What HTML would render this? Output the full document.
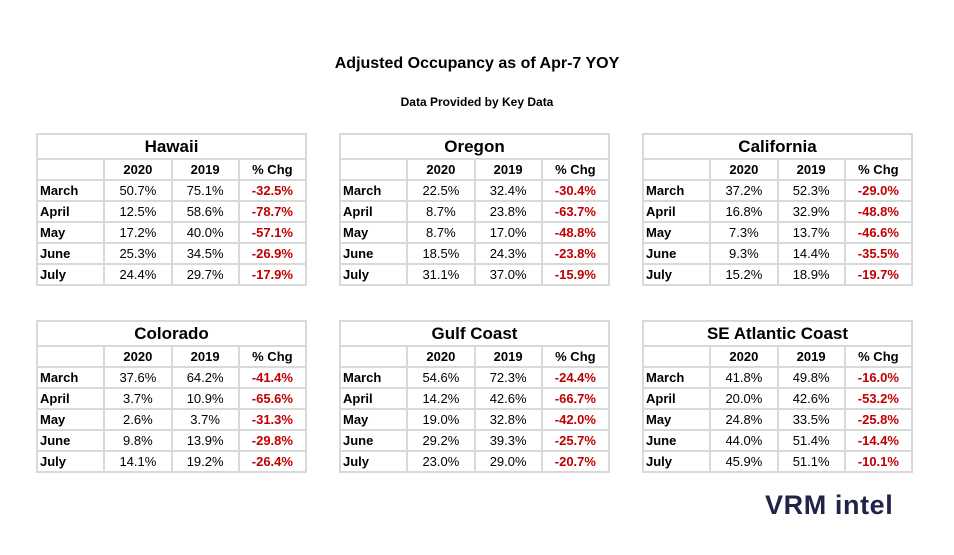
<!DOCTYPE html>
<html><head><meta charset="utf-8"><style>
body{margin:0;width:954px;height:555px;background:#fff;font-family:"Liberation Sans",sans-serif;position:relative;overflow:hidden;color:#000}
.t{position:absolute;text-align:center;font-weight:bold;width:954px;left:0}
table{position:absolute;border-collapse:collapse;table-layout:fixed;width:271px}
td{border:2px solid #d9d9d9;height:19px;padding:0 2px;font-size:13px;text-align:center;line-height:19px}
td.h{font-size:17px;height:23px;line-height:23px;font-weight:bold}
tr.hd td{font-weight:bold}
td.l{text-align:left;font-weight:bold}
td.r{color:#c00000;font-weight:bold}
.logo{position:absolute;left:765px;top:490px;font-size:27px;font-weight:bold;color:#23234a;letter-spacing:0.6px}
</style></head><body>
<div class="t" style="top:55px;font-size:16px">Adjusted Occupancy as of Apr-7 YOY</div>
<div class="t" style="top:95px;font-size:12px">Data Provided by Key Data</div>
<div id="tables"></div>
<div class="logo">VRM intel</div>
<script>
const regions=["Hawaii","Oregon","California","Colorado","Gulf Coast","SE Atlantic Coast"];
const months=["March","April","May","June","July"];
const v2020=[[50.7,12.5,17.2,25.3,24.4],[22.5,8.7,8.7,18.5,31.1],[37.2,16.8,7.3,9.3,15.2],[37.6,3.7,2.6,9.8,14.1],[54.6,14.2,19.0,29.2,23.0],[41.8,20.0,24.8,44.0,45.9]];
const v2019=[[75.1,58.6,40.0,34.5,29.7],[32.4,23.8,17.0,24.3,37.0],[52.3,32.9,13.7,14.4,18.9],[64.2,10.9,3.7,13.9,19.2],[72.3,42.6,32.8,39.3,29.0],[49.8,42.6,33.5,51.4,51.1]];
const chg=[[-32.5,-78.7,-57.1,-26.9,-17.9],[-30.4,-63.7,-48.8,-23.8,-15.9],[-29.0,-48.8,-46.6,-35.5,-19.7],[-41.4,-65.6,-31.3,-29.8,-26.4],[-24.4,-66.7,-42.0,-25.7,-20.7],[-16.0,-53.2,-25.8,-14.4,-10.1]];
const lefts=[36,339,642],tops=[133,320];
const host=document.getElementById('tables');
regions.forEach((r,i)=>{
  const t=document.createElement('table');
  
  
  t.style.left=lefts[i%3]+'px';t.style.top=tops[Math.floor(i/3)]+'px';
  let h='<tr><td class="h" colspan="4">'+r+'</td></tr><tr class="hd"><td></td><td>2020</td><td>2019</td><td>% Chg</td></tr>';
  months.forEach((m,j)=>{h+='<tr><td class="l">'+m+'</td><td>'+v2020[i][j].toFixed(1)+'%</td><td>'+v2019[i][j].toFixed(1)+'%</td><td class="r">'+chg[i][j].toFixed(1)+'%</td></tr>';});
  t.innerHTML=h;host.appendChild(t);
});
</script>
</body></html>
